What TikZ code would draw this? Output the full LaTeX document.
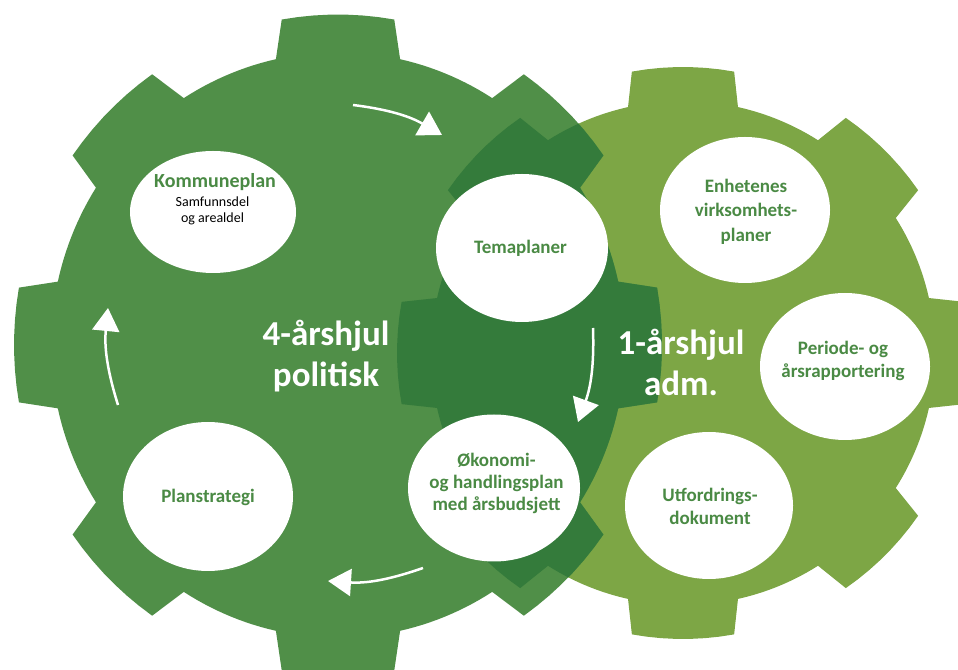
\documentclass[tikz,border=0pt]{standalone}
\usepackage{fontspec}
\setmainfont{Carlito}
\usetikzlibrary{shapes.geometric,arrows.meta}
\definecolor{gB}{HTML}{508F48}
\definecolor{gS}{HTML}{7DA645}
\definecolor{gD}{HTML}{347B3B}
\definecolor{tG}{HTML}{4A8A44}
% gear outline: #1 cx, #2 cy, #3 body r, #4 tooth R, #5 half angle at base, #6 half angle at tip, #7 y-stretch
\newcommand\gearpath[7]{({#1+#3*cos(-#5)},{#2+#7*#3*sin(-#5)})
  \foreach \a in {0,45,...,315}{
    -- ({#1+#4*cos(\a-#6)},{#2+#7*#4*sin(\a-#6)})
    -- plot[domain=\a-#6:\a+#6,samples=8,variable=\t] ({#1+#4*cos(\t)},{#2+#7*#4*sin(\t)})
    -- ({#1+#3*cos(\a+#5)},{#2+#7*#3*sin(\a+#5)})
    -- plot[domain=\a+#5:\a+45-#5,samples=14,variable=\t] ({#1+#3*cos(\t)},{#2+#7*#3*sin(\t)})
  } -- cycle}
\begin{document}
\begin{tikzpicture}[x=1pt,y=1pt,
  bubble/.style={ellipse, fill=white, draw=none, inner sep=0pt},
  lab/.style={font=\fontsize{19}{23}\selectfont\bfseries, text=tG, align=center, inner sep=0pt},
  big/.style={font=\fontsize{35}{41}\selectfont\bfseries, text=white, align=center, inner sep=0pt},
  cyc/.style={draw=white, line width=2.5pt, -{Triangle[length=23pt,width=27pt]}}]
\useasboundingbox (0,0) rectangle (958,669);
% gears
\fill[gS] \gearpath{683}{316}{252}{286}{12.6}{10.3}{1};
\fill[gB] \gearpath{338}{324}{287}{324}{12.5}{10}{1.02};
\begin{scope}
  \clip \gearpath{683}{316}{252}{286}{12.6}{10.3}{1};
  \fill[gD] \gearpath{338}{324}{287}{324}{12.5}{10}{1.02};
\end{scope}
% bubbles
\node[bubble, minimum width=166pt, minimum height=122pt] (eK) at (213,457) {};
\node[bubble, minimum width=172pt, minimum height=148pt] (eT) at (522,421) {};
\node[bubble, minimum width=170pt, minimum height=149pt] (eP) at (208,172.5) {};
\node[bubble, minimum width=172pt, minimum height=147pt] (eO) at (494,181) {};
\node[bubble, minimum width=170pt, minimum height=146pt] (eE) at (745,459) {};
\node[bubble, minimum width=170pt, minimum height=147pt] (ePe) at (845,302.5) {};
\node[bubble, minimum width=168pt, minimum height=147pt] (eU) at (709,163.5) {};
% cycle arrows
\coordinate (a1s) at (353,564); \coordinate (a1e) at (442,534);
\coordinate (a2s) at (593,341); \coordinate (a2e) at (578,247);
\coordinate (a3s) at (423,101); \coordinate (a3e) at (328,88);
\coordinate (a4s) at (118,264); \coordinate (a4e) at (108,361);
\draw[cyc] (a1s) to[bend left=11.5] (a1e);
\draw[cyc] (a2s) to[bend left=11] (a2e);
\draw[cyc] (a3s) to[bend left=11.5] (a3e);
\draw[cyc] (a4s) to[bend left=11.5] (a4e);
% texts
\node[lab, font=\fontsize{20}{24}\selectfont\bfseries, anchor=base] (tK) at (215,481) {Kommuneplan};
\node[font=\fontsize{14}{16.5}\selectfont, align=center, inner sep=0pt] (tK2) at (212.5,458) {Samfunnsdel\\og arealdel};
\node[lab] (tT) at (520.5,421) {Temaplaner};
\node[lab, font=\fontsize{19}{24.5}\selectfont\bfseries] (tE) at (746,457.5) {Enhetenes\\virksomhets-\\planer};
\node[lab] (tPe) at (843,308) {Periode- og\\årsrapportering};
\node[lab] (tU) at (710,163) {Utfordrings-\\dokument};
\node[lab, font=\fontsize{19}{22}\selectfont\bfseries] (tO) at (496.5,186) {Økonomi-\\og handlingsplan\\med årsbudsjett};
\node[lab] (tP) at (208,172) {Planstrategi};
\node[big] (b4) at (326,313) {4-årshjul\\politisk};
\node[big] (b1) at (681,307) {1-årshjul\\adm.};
\end{tikzpicture}
\end{document}
